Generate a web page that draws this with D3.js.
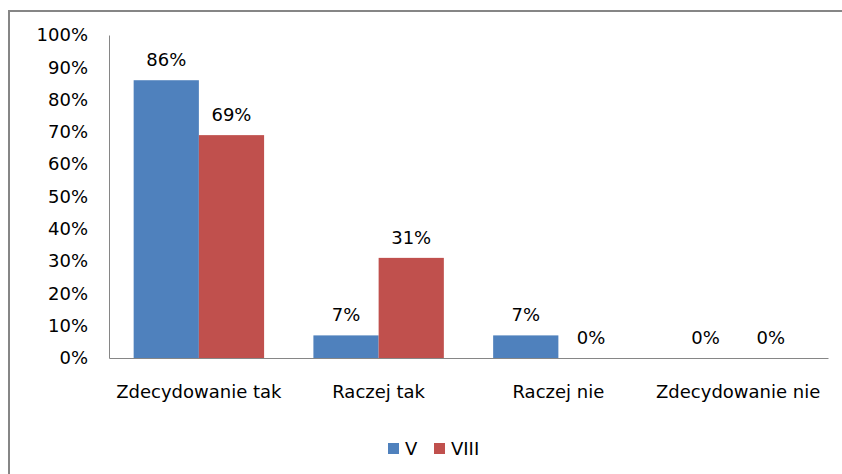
<!DOCTYPE html>
<html>
<head>
<meta charset="utf-8">
<script src="https://cdn.jsdelivr.net/npm/d3@7"></script>
<style>
  body { margin: 0; background: #fff; }
  svg text { font-family: "DejaVu Sans", sans-serif; font-size: 18px; fill: #000; }
</style>
</head>
<body>
<script>
// chart data
const categories = ["Zdecydowanie tak", "Raczej tak", "Raczej nie", "Zdecydowanie nie"];
const seriesNames = ["V", "VIII"];
const valuesV = [86, 7, 7, 0];
const valuesVIII = [69, 31, 0, 0];
const yTicks = [0, 10, 20, 30, 40, 50, 60, 70, 80, 90, 100];
const colors = ["#4F81BD", "#C0504D"];

const width = 842;
const height = 474;
const margin = { top: 35, right: 14, bottom: 116, left: 109 };

const svg = d3.select("body").append("svg")
    .attr("width", width)
    .attr("height", height);

// outer frame (right and bottom run off the picture)
svg.append("rect")
    .attr("x", 9).attr("y", 11)
    .attr("width", 900).attr("height", 600)
    .attr("fill", "#fff")
    .attr("stroke", "#868686")
    .attr("stroke-width", 2);

const x0 = d3.scaleBand()
    .domain(categories)
    .range([margin.left, width - margin.right]);

const x1 = d3.scaleBand()
    .domain(seriesNames)
    .range([0, x0.bandwidth()])
    .paddingOuter(0.378);

const y = d3.scaleLinear()
    .domain([0, 100])
    .range([height - margin.bottom, margin.top]);

const rows = categories.map((c, i) => ({
    cat: c,
    vals: [
        { name: "V", value: valuesV[i] },
        { name: "VIII", value: valuesVIII[i] }
    ]
}));

// bars
const groups = svg.append("g").selectAll("g")
    .data(rows)
    .join("g")
    .attr("transform", d => `translate(${x0(d.cat)},0)`);

groups.selectAll("rect")
    .data(d => d.vals)
    .join("rect")
    .attr("x", d => x1(d.name))
    .attr("y", d => y(d.value))
    .attr("width", x1.bandwidth())
    .attr("height", d => y(0) - y(d.value))
    .attr("fill", (d, i) => colors[i]);

// value labels
groups.selectAll("text")
    .data(d => d.vals)
    .join("text")
    .attr("x", d => x1(d.name) + x1.bandwidth() / 2)
    .attr("y", d => y(d.value) - 14)
    .attr("text-anchor", "middle")
    .text(d => d.value + "%");

// y axis
const yAxis = svg.append("g")
    .attr("transform", `translate(${margin.left},0)`)
    .call(d3.axisLeft(y).tickValues(yTicks).tickSize(0).tickPadding(21).tickFormat(d => d + "%"));
yAxis.select(".domain").attr("stroke", "#868686");
yAxis.selectAll("text").attr("font-size", null).attr("font-family", null);

// x axis
const xAxis = svg.append("g")
    .attr("transform", `translate(0,${y(0)})`)
    .call(d3.axisBottom(x0).tickSize(0).tickPadding(27));
xAxis.select(".domain").attr("stroke", "#868686");
xAxis.selectAll("text").attr("font-size", null).attr("font-family", null);

// legend
const legendItems = [
    { name: "V", x: 388, color: colors[0] },
    { name: "VIII", x: 434, color: colors[1] }
];
const legend = svg.append("g").selectAll("g")
    .data(legendItems)
    .join("g")
    .attr("transform", d => `translate(${d.x},443)`);
legend.append("rect")
    .attr("width", 11).attr("height", 11)
    .attr("fill", d => d.color);
legend.append("text")
    .attr("x", 17).attr("y", 12)
    .text(d => d.name);
</script>
</body>
</html>
